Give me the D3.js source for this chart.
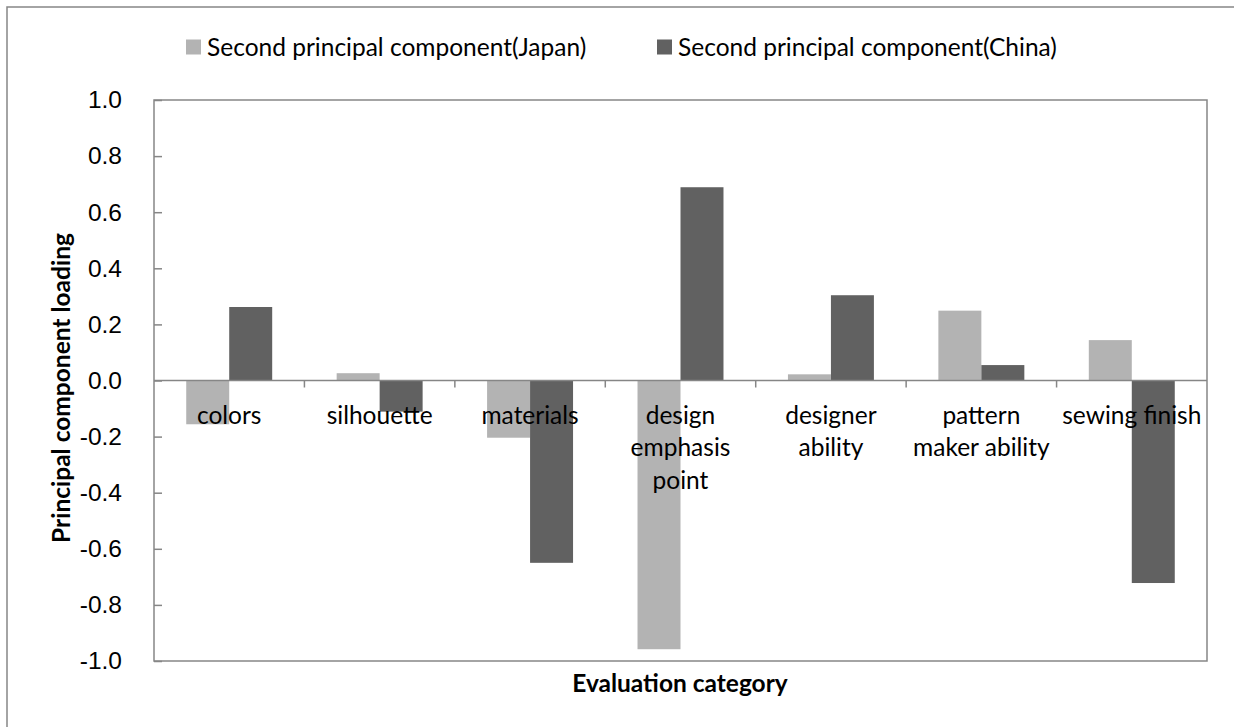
<!DOCTYPE html>
<html>
<head>
<meta charset="utf-8">
<script src="https://cdn.jsdelivr.net/npm/d3@7"></script>
<style>
  body { margin: 0; background: #fff; }
  svg { display: block; font-family: Lato, "Open Sans", sans-serif; }
</style>
</head>
<body>
<svg width="1234" height="727"></svg>
<script>
// data
var categories = ["colors", "silhouette", "materials", "design emphasis point",
                  "designer ability", "pattern maker ability", "sewing finish"];
var categoryLines = [["colors"], ["silhouette"], ["materials"], ["design", "emphasis", "point"],
                     ["designer", "ability"], ["pattern", "maker ability"], ["sewing finish"]];
var seriesNames = ["Second principal component(Japan)", "Second principal component(China)"];
var japan = [-0.156, 0.026, -0.204, -0.958, 0.022, 0.249, 0.144];
var china = [0.262, -0.111, -0.650, 0.689, 0.304, 0.055, -0.722];
var yTicks = [-1.0, -0.8, -0.6, -0.4, -0.2, 0.0, 0.2, 0.4, 0.6, 0.8, 1.0];
var colors = ["#b3b3b3", "#616161"];

var svg = d3.select("svg");
var plotLeft = 154, plotRight = 1207, plotTop = 100, plotBottom = 661;
var axisColor = "#868686";
var fontSize = 24.5;

// outer chart frame (right/bottom edges run off the picture)
svg.append("rect")
	.attr("x", 7).attr("y", 7)
	.attr("width", 1240).attr("height", 740)
	.attr("fill", "none").attr("stroke", axisColor).attr("stroke-width", 1.5);

var y = d3.scaleLinear().domain([-1, 1]).range([plotBottom, plotTop]);
var x = d3.scaleBand().domain(categories).range([plotLeft, plotRight]).paddingInner(0);
var x1 = d3.scaleBand().domain(seriesNames).range([0, x.bandwidth()]).paddingOuter(0.75).paddingInner(0);

var rows = categories.map(function(c, i) {
	return {cat: c, values: [japan[i], china[i]]};
});

// bars
var groups = svg.append("g").selectAll("g").data(rows).enter().append("g")
	.attr("transform", function(d) { return "translate(" + x(d.cat) + ",0)"; });
groups.selectAll("rect").data(function(d) {
		return d.values.map(function(v, k) { return {name: seriesNames[k], v: v, k: k}; });
	}).enter().append("rect")
	.attr("x", function(d) { return x1(d.name); })
	.attr("width", x1.bandwidth())
	.attr("y", function(d) { return y(Math.max(0, d.v)); })
	.attr("height", function(d) { return Math.abs(y(d.v) - y(0)); })
	.attr("fill", function(d) { return colors[d.k]; });

// plot area border
svg.append("rect")
	.attr("x", plotLeft).attr("y", plotTop)
	.attr("width", plotRight - plotLeft).attr("height", plotBottom - plotTop)
	.attr("fill", "none").attr("stroke", axisColor).attr("stroke-width", 1.5);

// y axis
var loc = d3.formatLocale({decimal: ".", thousands: ",", grouping: [3], currency: ["", ""], minus: "-"});
var yAxis = d3.axisLeft(y).tickValues(yTicks).tickFormat(loc.format(".1f"))
	.tickSizeInner(-8).tickSizeOuter(0).tickPadding(32);
var gy = svg.append("g").attr("transform", "translate(" + plotLeft + ",0)").call(yAxis);
gy.select(".domain").remove();
gy.selectAll("line").attr("stroke", axisColor).attr("stroke-width", 1.5);
gy.selectAll("text").attr("font-size", fontSize).attr("fill", "#000").attr("font-family", null);

// category axis along zero
svg.append("line")
	.attr("x1", plotLeft).attr("x2", plotRight)
	.attr("y1", y(0)).attr("y2", y(0))
	.attr("stroke", axisColor).attr("stroke-width", 1.5);
svg.append("g").selectAll("line").data(categories.slice(1)).enter().append("line")
	.attr("x1", function(d) { return x(d); }).attr("x2", function(d) { return x(d); })
	.attr("y1", y(0)).attr("y2", y(0) + 7)
	.attr("stroke", axisColor).attr("stroke-width", 1.5);

// category labels
var labels = svg.append("g").selectAll("text").data(categories).enter().append("text")
	.attr("text-anchor", "middle")
	.attr("font-size", fontSize)
	.attr("fill", "#000");
labels.each(function(d, i) {
	var t = d3.select(this);
	categoryLines[i].forEach(function(line, j) {
		t.append("tspan")
			.attr("x", x(d) + x.bandwidth() / 2)
			.attr("y", 415 + j * 32.5)
			.attr("dy", "0.35em")
			.text(line);
	});
});

// axis titles
svg.append("text")
	.attr("transform", "translate(61,388) rotate(-90)")
	.attr("text-anchor", "middle").attr("dy", "0.35em")
	.attr("font-size", fontSize).attr("font-weight", "bold")
	.text("Principal component loading");
svg.append("text")
	.attr("x", 680).attr("y", 683).attr("dy", "0.35em")
	.attr("text-anchor", "middle")
	.attr("font-size", fontSize).attr("font-weight", "bold")
	.text("Evaluation category");

// legend
var legendX = [186, 657];
var legend = svg.append("g").selectAll("g").data(seriesNames).enter().append("g")
	.attr("transform", function(d, i) { return "translate(" + legendX[i] + ",47)"; });
legend.append("rect")
	.attr("x", 0).attr("y", -7.5).attr("width", 15).attr("height", 15)
	.attr("fill", function(d, i) { return colors[i]; });
legend.append("text")
	.attr("x", 21).attr("dy", "0.35em")
	.attr("font-size", fontSize)
	.text(function(d) { return d; });
</script>
</body>
</html>
